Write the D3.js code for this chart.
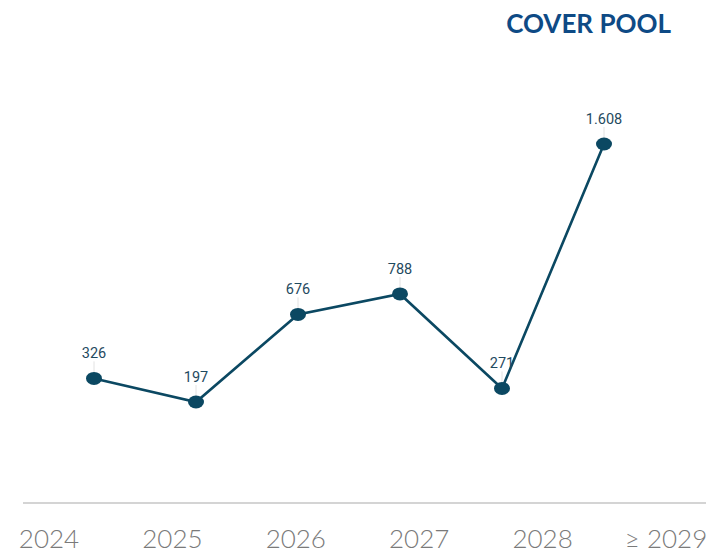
<!DOCTYPE html>
<html lang="en">
<head>
    <meta charset="UTF-8">
    <title>Cover Pool</title>
    <script src="https://d3js.org/d3.v7.min.js"></script>
    <style>
        body { margin: 0; background: #fff; }
    </style>
</head>
<body>
    <div id="chart"></div>
    <script>
        // Cover pool maturities
        const years = ["2024", "2025", "2026", "2027", "2028", "≥ 2029"];
        const values = [326, 197, 676, 788, 271, 1608];
        const valueLabels = ["326", "197", "676", "788", "271", "1.608"];

        const W = 708, H = 554;
        const svg = d3.select("#chart").append("svg")
            .attr("width", W)
            .attr("height", H);

        const lineColor = "#0b4862";

        // Scales
        const x = d3.scalePoint().domain(years).range([94, 604]);
        const y = d3.scaleLinear().domain([0, 1608]).range([438, 144]);
        const xLabel = d3.scalePoint().domain(years).range([49, 666]);

        // Title
        svg.append("text")
            .attr("x", 671)
            .attr("y", 33)
            .attr("text-anchor", "end")
            .style("font-family", "Lato, sans-serif")
            .style("font-weight", "bold")
            .style("font-size", "26px")
            .style("fill", "#0e4a85")
            .text("COVER POOL");

        // Baseline
        svg.append("line")
            .attr("x1", 23).attr("x2", 706)
            .attr("y1", 503).attr("y2", 503)
            .attr("stroke", "#d4d4d4")
            .attr("stroke-width", 2);

        // Year labels
        svg.selectAll(".year")
            .data(years)
            .enter().append("text")
            .attr("class", "year")
            .attr("x", d => xLabel(d))
            .attr("y", 548)
            .attr("text-anchor", "middle")
            .style("font-family", "Lato, sans-serif")
            .style("font-weight", 300)
            .style("font-size", "26px")
            .style("fill", "#7a7a7a")
            .text(d => d);

        const data = years.map((d, i) => ({year: d, value: values[i], label: valueLabels[i]}));

        // Leader lines
        svg.selectAll(".leader")
            .data(data)
            .enter().append("line")
            .attr("class", "leader")
            .attr("x1", d => x(d.year)).attr("x2", d => x(d.year))
            .attr("y1", d => y(d.value) - 17)
            .attr("y2", d => y(d.value) - 6)
            .attr("stroke", "#e2e2e2")
            .attr("stroke-width", 1);

        // Line
        const line = d3.line()
            .x(d => x(d.year))
            .y(d => y(d.value));

        svg.append("path")
            .datum(data)
            .attr("d", line)
            .attr("fill", "none")
            .attr("stroke", lineColor)
            .attr("stroke-width", 2.6);

        // Dots
        svg.selectAll(".dot")
            .data(data)
            .enter().append("ellipse")
            .attr("class", "dot")
            .attr("cx", d => x(d.year))
            .attr("cy", d => y(d.value))
            .attr("rx", 8)
            .attr("ry", 6.5)
            .attr("fill", lineColor);

        // Value labels
        svg.selectAll(".val")
            .data(data)
            .enter().append("text")
            .attr("class", "val")
            .attr("x", d => x(d.year))
            .attr("y", d => y(d.value) - 20)
            .attr("text-anchor", "middle")
            .style("font-family", "Roboto, sans-serif")
            .style("font-size", "14.5px")
            .style("fill", "#1f4a60")
            .text(d => d.label);
    </script>
</body>
</html>
